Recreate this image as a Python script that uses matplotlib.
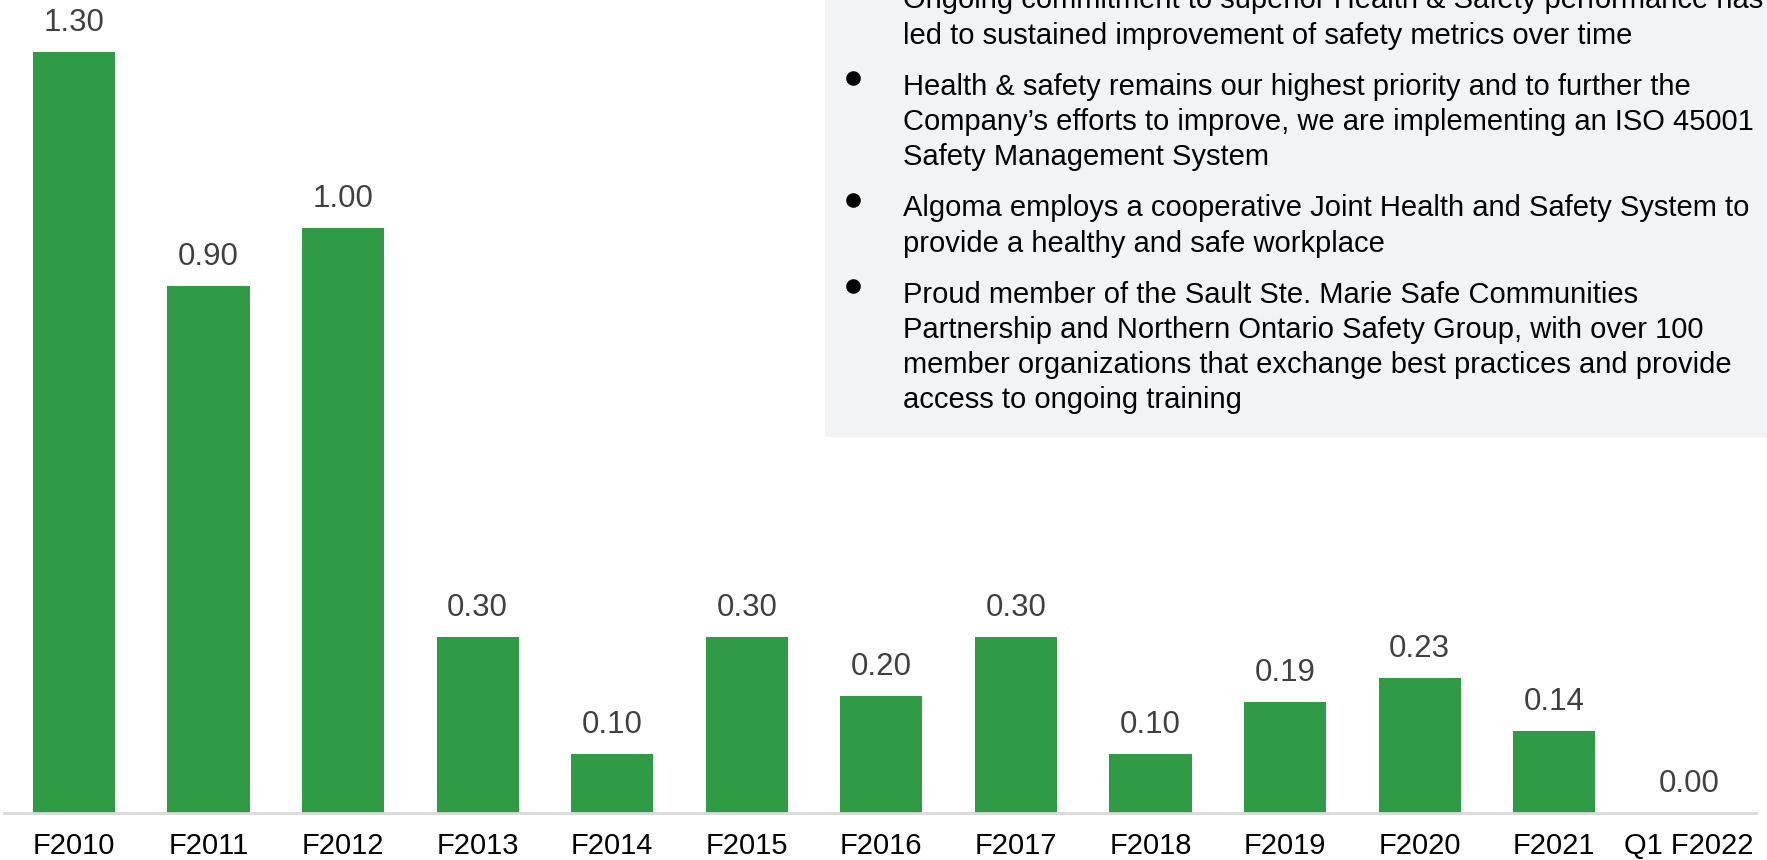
import matplotlib
matplotlib.use("Agg")
import matplotlib.pyplot as plt
from matplotlib.lines import Line2D

# data
categories = ["F2010", "F2011", "F2012", "F2013", "F2014", "F2015", "F2016",
              "F2017", "F2018", "F2019", "F2020", "F2021", "Q1 F2022"]
values = [1.30, 0.90, 1.00, 0.30, 0.10, 0.30, 0.20, 0.30, 0.10, 0.19, 0.23, 0.14, 0.00]

bullets = [
    ["Ongoing commitment to superior Health & Safety performance has",
     "led to sustained improvement of safety metrics over time"],
    ["Health & safety remains our highest priority and to further the",
     "Company\u2019s efforts to improve, we are implementing an ISO 45001",
     "Safety Management System"],
    ["Algoma employs a cooperative Joint Health and Safety System to",
     "provide a healthy and safe workplace"],
    ["Proud member of the Sault Ste. Marie Safe Communities",
     "Partnership and Northern Ontario Safety Group, with over 100",
     "member organizations that exchange best practices and provide",
     "access to ongoing training"],
]

plt.rcParams['font.family'] = ['Liberation Sans', 'DejaVu Sans']

W, H = 1767, 860
fig = plt.figure(figsize=(W / 100, H / 100), dpi=100)

# main bar axes (pixel layout)
left, right, bottom = 4, 1756, 47
ax = fig.add_axes([left / W, bottom / H, (right - left) / W, (H - bottom) / H])
x = list(range(len(categories)))
ax.bar(x, values, width=0.61, color="#2f9b45")
ax.set_xlim(-0.52, 12.5)
ax.set_ylim(0, 1.389)
for xi, v in zip(x, values):
    ax.annotate("%.2f" % v, (xi, v), xytext=(0, 21), textcoords="offset points",
                ha="center", va="center", fontsize=22.5, color="#404040")
ax.set_xticks(x)
ax.set_xticklabels(categories, fontsize=21, color="black")
ax.tick_params(axis="x", length=0, pad=13.5)
ax.set_yticks([])
for s in ["top", "right", "left"]:
    ax.spines[s].set_visible(False)
ax.spines["bottom"].set_color("#d9d9d9")
ax.spines["bottom"].set_linewidth(2)
ax.patch.set_alpha(0)

# grey text panel, top right
box_left, box_bottom = 825, 437
box = fig.add_axes([box_left / W, (H - box_bottom) / H, (W - box_left) / W, box_bottom / H])
box.set_facecolor("#f2f3f5")
box.set_xticks([])
box.set_yticks([])
for s in box.spines.values():
    s.set_visible(False)

y = 8.5
for para in bullets:
    by = 1 - (y - 17) / H
    fig.add_artist(Line2D([853 / W], [by], marker="o", markersize=9.5, color="black",
                          linestyle="none", transform=fig.transFigure))
    for line in para:
        fig.text(903 / W, 1 - y / H, line, fontsize=21, color="black",
                 ha="left", va="baseline")
        y += 35.2
    y += 16

fig.savefig("out.png", dpi=100)
